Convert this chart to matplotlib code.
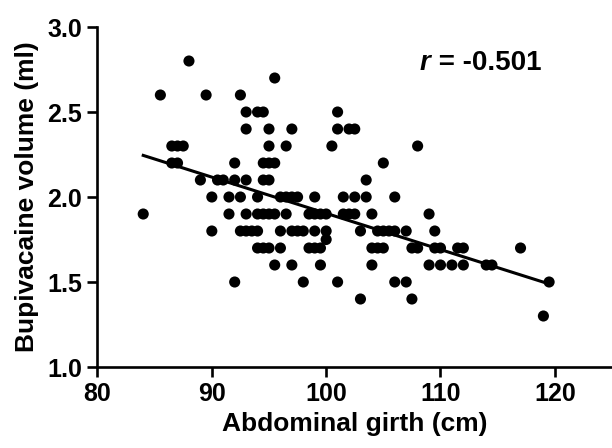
import numpy as np
import matplotlib
matplotlib.use("Agg")
import matplotlib.pyplot as plt
import matplotlib.ticker as mticker

plt.rcParams["font.family"] = ["Liberation Sans", "DejaVu Sans"]
plt.rcParams["font.weight"] = "bold"

## Data, one row per volume level
girth_cm = []
volume_ml = []
rows = [
    (2.8, [88]),
    (2.7, [95.5]),
    (2.6, [85.5, 89.5, 92.5]),
    (2.5, [93, 94, 94.5, 101]),
    (2.4, [93, 95, 97, 101, 102, 102.5]),
    (2.3, [86.5, 87, 87.5, 95, 96.5, 100.5, 108]),
    (2.2, [86.5, 87, 92, 94.5, 95, 95.5, 105]),
    (2.1, [89, 90.5, 91, 92, 93, 94.5, 95, 103.5]),
    (2.0, [90, 91.5, 92.5, 94, 96, 96.5, 97, 97.5, 99, 101.5, 102.5, 103.5, 106]),
    (1.9, [84, 91.5, 93, 94, 94.5, 95, 95.5, 96.5, 98.5, 99, 99.5, 100,
           101.5, 102, 102.5, 104, 109]),
    (1.8, [90, 92.5, 93, 93.5, 94, 96, 97, 97.5, 98, 99, 100, 103,
           104.5, 105, 105.5, 106, 107, 109.5]),
    (1.75, [100]),
    (1.7, [94, 94.5, 95, 96, 98.5, 99, 99.5, 104, 104.5, 105, 107.5, 108,
           109.5, 110, 111.5, 112, 117]),
    (1.6, [95.5, 97, 99.5, 104, 109, 110, 111, 112, 114, 114.5]),
    (1.5, [92, 98, 101, 106, 107, 119.5]),
    (1.4, [103, 107.5]),
    (1.3, [119]),
]
for vol, xs in rows:
    girth_cm += xs
    volume_ml += [vol] * len(xs)

girth_cm = np.array(girth_cm)
volume_ml = np.array(volume_ml)

x_ticks = [80, 90, 100, 110, 120]
y_ticks = [1.0, 1.5, 2.0, 2.5, 3.0]
r_text = "-0.501"

fit_slope = -0.0213
fit_intercept = 4.034
x_fit = np.array([girth_cm.min(), girth_cm.max()])
y_fit = fit_slope * x_fit + fit_intercept

fig = plt.figure(figsize=(6.12, 4.48), dpi=100)
ax = fig.add_axes([0.1593, 0.1808, 0.8407, 0.7589])

ax.scatter(girth_cm, volume_ml, s=64, color="black", edgecolors="none", zorder=3)
ax.plot(x_fit, y_fit, color="black", linewidth=2.2, zorder=2)

ax.set_xlim(80, 125)
ax.set_ylim(1.0, 3.0)
ax.xaxis.set_major_locator(mticker.FixedLocator(x_ticks))
ax.yaxis.set_major_locator(mticker.FixedLocator(y_ticks))
ax.yaxis.set_major_formatter(mticker.FormatStrFormatter("%.1f"))

for side in ["top", "right"]:
    ax.spines[side].set_visible(False)
for side in ["left", "bottom"]:
    ax.spines[side].set_linewidth(1.9)
ax.tick_params(direction="out", length=7, width=1.9, labelsize=18, pad=4)

ax.set_xlabel("Abdominal girth (cm)", fontsize=19, fontweight="bold", labelpad=4)
ax.set_ylabel("Bupivacaine volume (ml)", fontsize=19, fontweight="bold", labelpad=6)

r_label = ax.text(108.2, 2.79, "r", fontsize=20, fontweight="bold",
                  fontstyle="italic", va="center", ha="left")
ax.annotate(" = " + r_text, xy=(1, 0.5), xycoords=r_label, fontsize=20,
            fontweight="bold", va="center", ha="left")

fig.savefig("out.png", dpi=100)
